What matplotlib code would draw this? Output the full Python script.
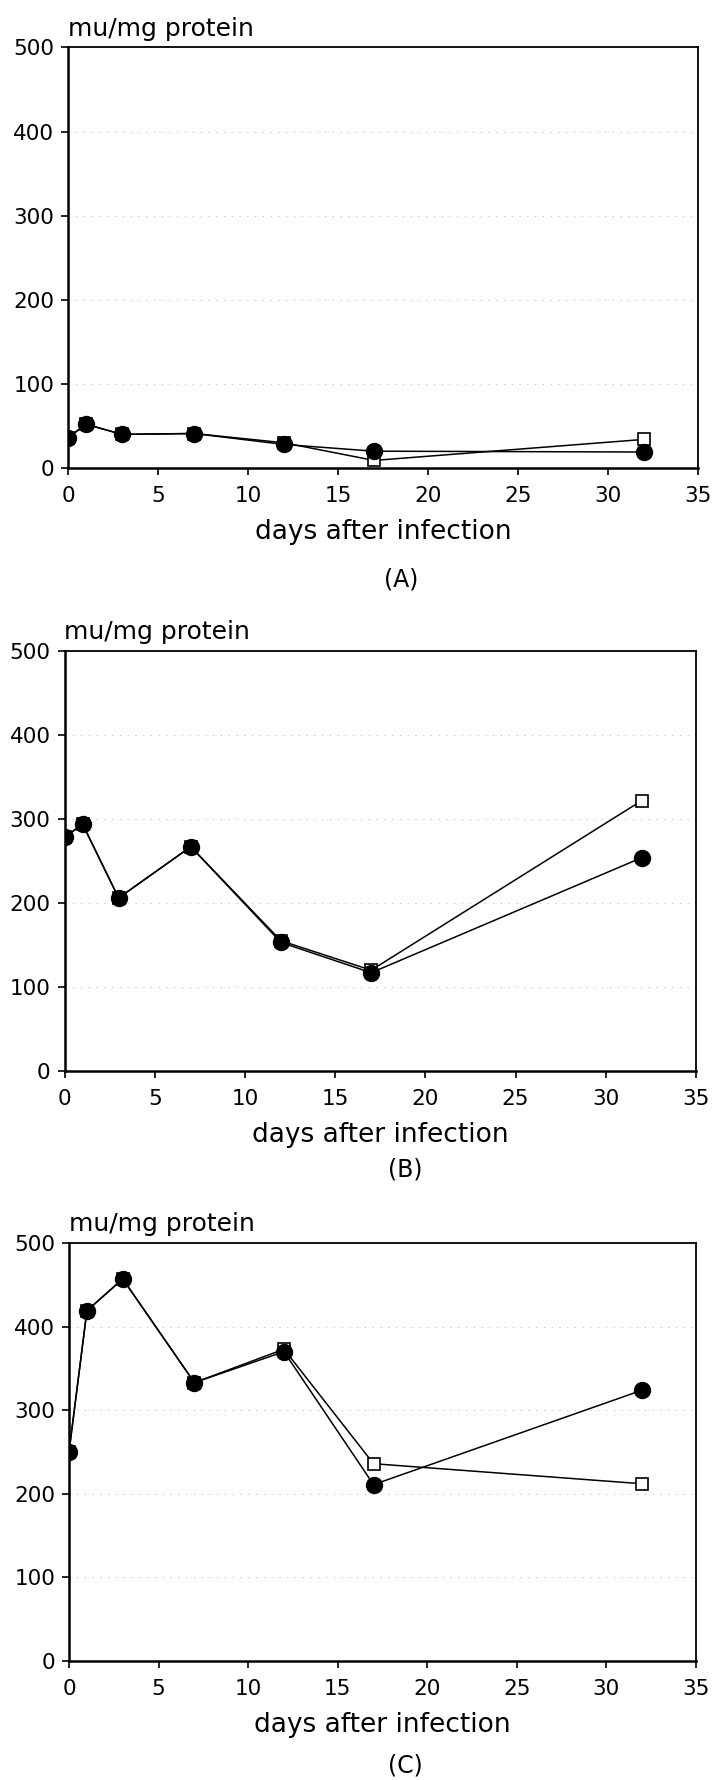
from matplotlib import pyplot as plt
import numpy as np

# days after infection, same for all three panels
days = [0, 1, 3, 7, 12, 17, 32]

# (A)
a_open = [36, 52, 40, 41, 30, 9, 34]
a_filled = [36, 52, 40, 41, 28, 20, 19]
# (B)
b_open = [278, 294, 206, 267, 155, 120, 322]
b_filled = [278, 294, 206, 267, 153, 117, 254]
# (C)
c_open = [250, 419, 457, 333, 373, 236, 212]
c_filled = [250, 419, 457, 333, 370, 211, 324]

panel_labels = ['(A)', '(B)', '(C)']
x_ticks = [0, 5, 10, 15, 20, 25, 30, 35]
y_ticks = [0, 100, 200, 300, 400, 500]

W, H = 713.0, 1780.0
# axes boxes in pixels: left, top, right, bottom
boxes = [(68, 47.5, 698, 468),
         (64.5, 651, 696, 1071),
         (69, 1243, 696, 1661)]
# panel letter centre in pixels
letter_pos = [(401, 579), (405, 1169), (405, 1765)]

plt.rcParams['font.family'] = ['DejaVu Sans']

fig = plt.figure(figsize=(W / 100, H / 100), dpi=100)

series = [(a_open, a_filled), (b_open, b_filled), (c_open, c_filled)]

for i in range(3):
    l, t, r, b = boxes[i]
    ax = fig.add_axes([l / W, 1 - b / H, (r - l) / W, (b - t) / H])
    op, fi = series[i]

    # faint dotted grid like the scan
    for yv in y_ticks[1:-1]:
        ax.axhline(yv, color='#b0b0b0', lw=0.7, linestyle=(0, (1, 7)), zorder=0)

    ax.plot(days, op, '-', color='black', lw=1.1, marker='s', markersize=8,
            markerfacecolor='white', markeredgecolor='black', markeredgewidth=1.2,
            zorder=3)
    ax.plot(days, fi, '-', color='black', lw=1.1, marker='o', markersize=11.5,
            markerfacecolor='black', markeredgecolor='black', zorder=4)

    ax.set_xlim(0, 35)
    ax.set_ylim(0, 500)
    ax.set_xticks(x_ticks)
    ax.set_yticks(y_ticks)
    ax.tick_params(direction='out', length=5, width=1.2, labelsize=15.5,
                   top=False, right=False)
    ax.tick_params(axis='x', pad=8)
    ax.tick_params(axis='y', pad=5)
    for s in ax.spines.values():
        s.set_linewidth(1.3)
        s.set_color('black')
    for p in ['left', 'bottom']:
        ax.spines[p].set_linewidth(1.8)

    ax.set_xlabel('days after infection', fontsize=19, labelpad=9)
    ax.annotate('mu/mg protein', xy=(0, 1), xycoords='axes fraction',
                xytext=(0, 5), textcoords='offset points',
                ha='left', va='bottom', fontsize=18)

    lx, ly = letter_pos[i]
    fig.text(lx / W, 1 - ly / H, panel_labels[i], ha='center', va='center',
             fontsize=17)

fig.savefig('out.png', dpi=100, facecolor='white')
